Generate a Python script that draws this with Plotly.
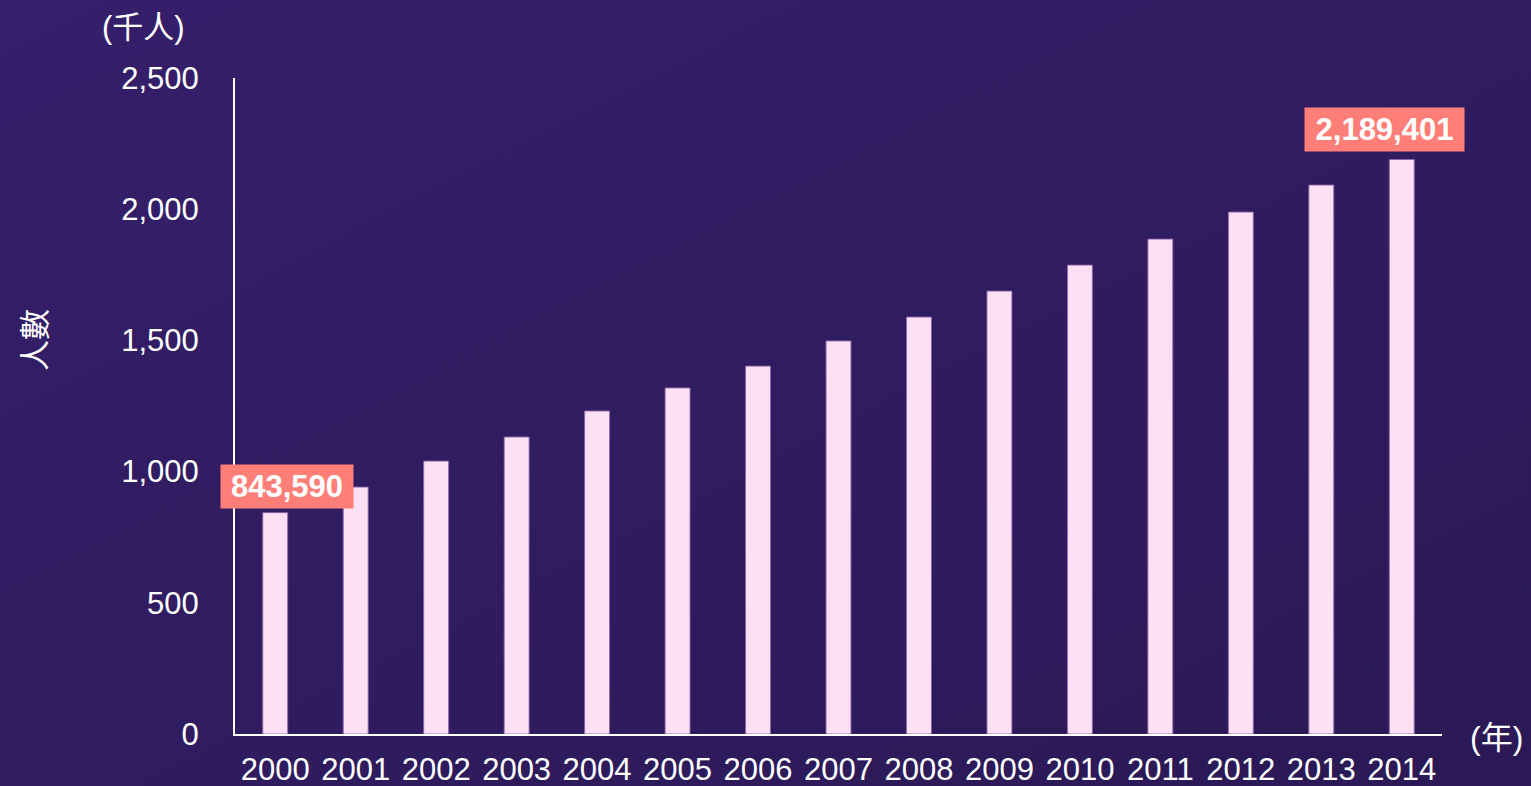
import base64
import plotly.graph_objects as go

years = ["2000", "2001", "2002", "2003", "2004", "2005", "2006", "2007",
         "2008", "2009", "2010", "2011", "2012", "2013", "2014"]
visitors_k = [843.590, 941, 1040, 1132, 1231, 1319, 1402, 1498,
              1589, 1688, 1787, 1886, 1989, 2092, 2189.401]
highlight_idx = [0, 14]
highlight_text = ["843,590", "2,189,401"]
highlight_shift = [12, -17]
highlight_lift = [4, 8]
highlight_width = [124, 151]
y_ticks = [0, 500, 1000, 1500, 2000, 2500]

W, H = 1531, 786
FONT = "Liberation Sans, Arial, Noto Sans CJK TC, sans-serif"

svg = (
    '<svg xmlns="http://www.w3.org/2000/svg" width="1531" height="786">'
    '<defs><linearGradient id="g" x1="0" y1="0" x2="1" y2="1">'
    '<stop offset="0" stop-color="#361f6b"/>'
    '<stop offset="1" stop-color="#2a1955"/>'
    '</linearGradient></defs>'
    '<rect width="1531" height="786" fill="url(#g)"/></svg>'
)
bg_src = "data:image/svg+xml;base64," + base64.b64encode(svg.encode()).decode()

fig = go.Figure()
fig.add_trace(go.Bar(
    x=years, y=visitors_k,
    marker=dict(color="#fde0f4", line=dict(color="rgba(140,100,170,0.9)", width=1)),
    width=0.31,
    hoverinfo="x+y",
))

annotations = []
for i, txt, sh, lift, wd in zip(highlight_idx, highlight_text, highlight_shift,
                                highlight_lift, highlight_width):
    annotations.append(dict(
        x=i, y=visitors_k[i], xref="x", yref="y",
        text="<b>" + txt + "</b>", showarrow=False, yanchor="bottom", xanchor="center",
        xshift=sh, yshift=lift, bgcolor="#ff7f78", borderpad=4, width=wd,
        font=dict(family=FONT, size=31, color="white"),
    ))

annotations += [
    dict(text="(千人)", x=143 / W, y=1 - 28 / H, xref="paper", yref="paper",
         showarrow=False, xanchor="center", yanchor="middle",
         font=dict(family=FONT, size=31, color="white")),
    dict(text="(年)", x=1496 / W, y=1 - 738 / H, xref="paper", yref="paper",
         showarrow=False, xanchor="center", yanchor="middle",
         font=dict(family=FONT, size=32, color="white")),
    dict(text="人數", x=35 / W, y=1 - 340 / H, xref="paper", yref="paper",
         showarrow=False, xanchor="center", yanchor="middle", textangle=-90,
         font=dict(family=FONT, size=31, color="white")),
]

fig.update_layout(
    width=W, height=H,
    margin=dict(l=0, r=0, t=0, b=0, autoexpand=False),
    paper_bgcolor="#311c62",
    plot_bgcolor="rgba(0,0,0,0)",
    showlegend=False,
    font=dict(family=FONT, size=31, color="white"),
    annotations=annotations,
    images=[dict(source=bg_src, xref="paper", yref="paper", x=0, y=1,
                 sizex=1, sizey=1, sizing="stretch", xanchor="left",
                 yanchor="top", layer="below")],
    xaxis=dict(
        domain=[235 / W, 1442 / W], range=[-0.5, 14.5], type="category",
        showline=True, linecolor="white", linewidth=2, showgrid=False,
        ticks="", tickfont=dict(size=31, color="white"), ticklabelstandoff=7,
        fixedrange=True, automargin=False,
    ),
    yaxis=dict(
        domain=[1 - 734 / H, 1 - 78 / H], range=[0, 2500],
        tickvals=y_ticks, tickformat=",", showline=True, linecolor="white",
        linewidth=2, showgrid=False, zeroline=False, ticks="",
        tickfont=dict(size=31, color="white"), ticklabelstandoff=28,
        fixedrange=True, automargin=False,
    ),
)

fig.write_html("out.html", config={"displayModeBar": False},
               post_script="document.body.style.margin='0';")
